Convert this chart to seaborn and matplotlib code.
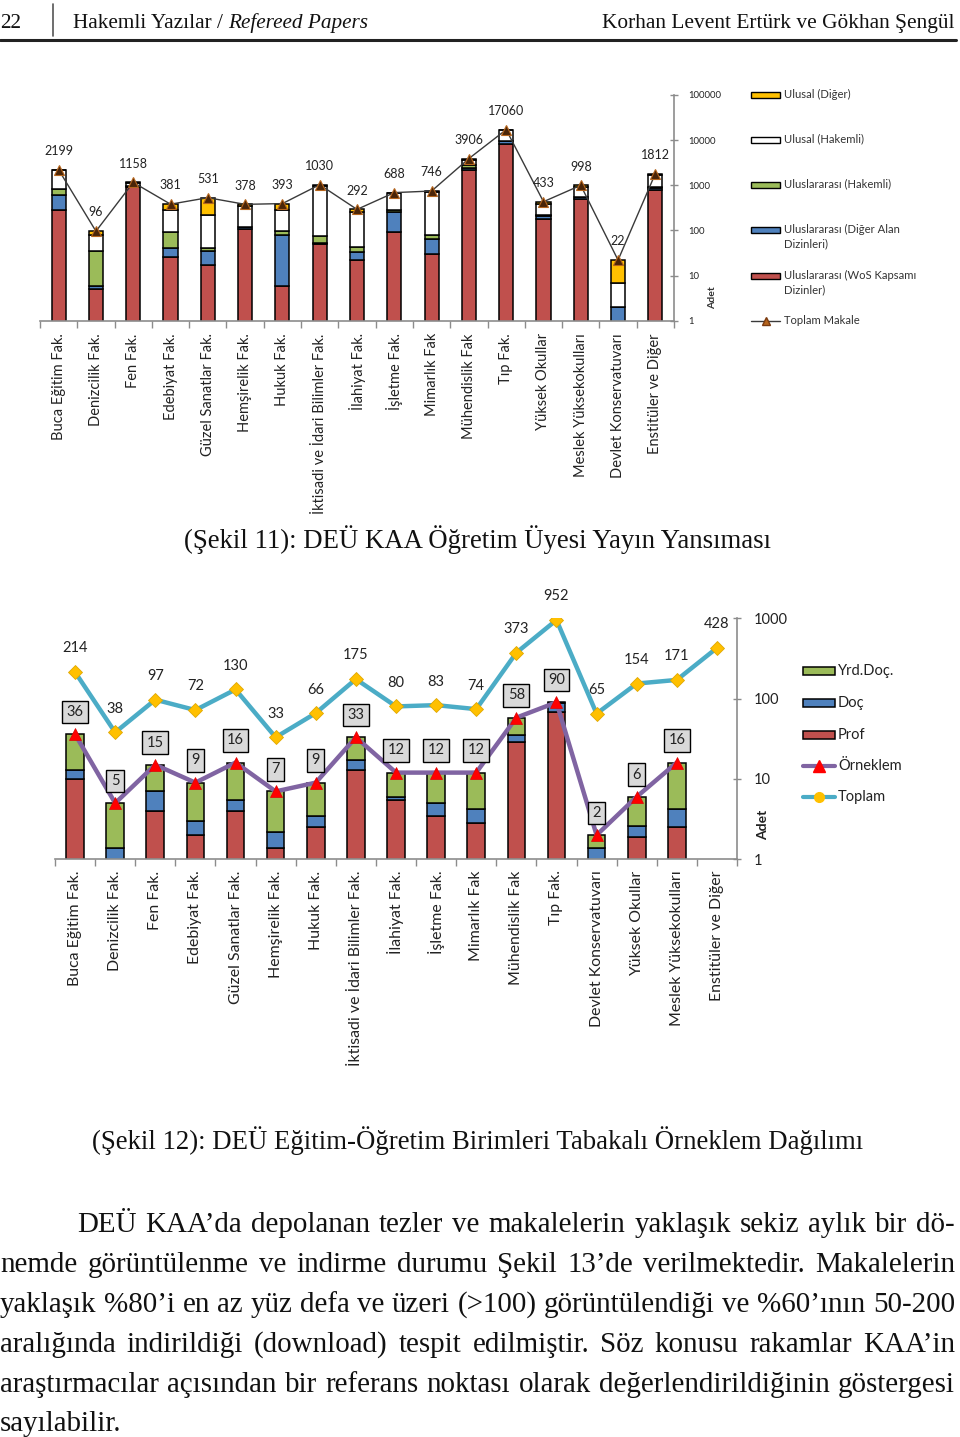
import numpy as np
import pandas as pd
import matplotlib
matplotlib.use("Agg")
import matplotlib.pyplot as plt
import seaborn as sns
from matplotlib.patches import Rectangle
from matplotlib.lines import Line2D
from matplotlib.ticker import NullLocator, FixedLocator

# ---------------- data: chart 1 (Şekil 11) ----------------
fac1 = ["Buca Eğitim Fak.", "Denizcilik Fak.", "Fen Fak.", "Edebiyat Fak.",
        "Güzel Sanatlar Fak.", "Hemşirelik Fak.", "Hukuk Fak.",
        "İktisadi ve İdari Bilimler Fak.", "İlahiyat Fak.", "İşletme Fak.",
        "Mimarlık Fak", "Mühendislik Fak", "Tıp Fak.", "Yüksek Okullar",
        "Meslek Yüksekokulları", "Devlet Konservatuvarı", "Enstitüler ve Diğer"]
wos = [282, 5, 920, 26, 17, 107, 6, 50, 22, 90, 30, 2150, 8100, 178, 490, 0, 780]
diger_alan = [318, 1, 30, 14, 18, 10, 73, 2, 11, 168, 34, 250, 1400, 30, 50, 2, 110]
uluslararasi_hakemli = [220, 29, 20, 50, 5, 5, 19, 24, 10, 32, 15, 370, 300, 10, 15, 0, 40]
ulusal_hakemli = [1330, 45, 170, 192, 180, 226, 184, 880, 215, 370, 616, 820, 6800, 163, 365, 5, 730]
ulusal_diger = [49, 16, 18, 99, 311, 30, 111, 74, 34, 28, 51, 316, 460, 52, 78, 15, 152]
toplam_makale = [2199, 96, 1158, 381, 531, 378, 393, 1030, 292, 688, 746, 3906,
                 17060, 433, 998, 22, 1812]
ticks1 = [1, 10, 100, 1000, 10000, 100000]

# ---------------- data: chart 2 (Şekil 12) ----------------
fac2 = ["Buca Eğitim Fak.", "Denizcilik Fak.", "Fen Fak.", "Edebiyat Fak.",
        "Güzel Sanatlar Fak.", "Hemşirelik Fak.", "Hukuk Fak.",
        "İktisadi ve İdari Bilimler Fak.", "İlahiyat Fak.", "İşletme Fak.",
        "Mimarlık Fak", "Mühendislik Fak", "Tıp Fak.", "Devlet Konservatuvarı",
        "Yüksek Okullar", "Meslek Yüksekokulları", "Enstitüler ve Diğer"]
prof = [10, 0, 4, 2, 4, 1.4, 2.5, 13, 5.5, 3.5, 2.8, 29, 69, 0, 1.9, 2.5, 0]
doc = [3, 1.4, 3, 1, 1.5, 0.8, 1, 4, 0.5, 1.5, 1.4, 6, 19, 1.4, 0.7, 1.7, 0]
yrd_doc = [23, 3.6, 8, 6, 10.5, 4.8, 5.5, 16, 6, 7, 7.8, 23, 2, 0.6, 3.4, 11.8, 0]
orneklem = [36, 5, 15, 9, 16, 7, 9, 33, 12, 12, 12, 58, 90, 2, 6, 16, np.nan]
toplam = [214, 38, 97, 72, 130, 33, 66, 175, 80, 83, 74, 373, 952, 65, 154, 171, 428]
ticks2 = [1, 10, 100, 1000]

# ---------------- text ----------------
header_left = "Hakemli Yazılar /"
header_left_it = "Refereed Papers"
header_right = "Korhan Levent Ertürk ve Gökhan Şengül"
page_no = "22"
caption1 = "(Şekil 11): DEÜ KAA Öğretim Üyesi Yayın Yansıması"
caption2 = "(Şekil 12): DEÜ Eğitim-Öğretim Birimleri Tabakalı Örneklem Dağılımı"
body_lines = [
    "DEÜ KAA’da depolanan tezler ve makalelerin yaklaşık sekiz aylık bir dö-",
    "nemde görüntülenme ve indirme durumu Şekil 13’de verilmektedir. Makalelerin",
    "yaklaşık %80’i en az yüz defa ve üzeri (>100) görüntülendiği ve %60’ının 50-200",
    "aralığında indirildiği (download) tespit edilmiştir. Söz konusu rakamlar KAA’in",
    "araştırmacılar açısından bir referans noktası olarak değerlendirildiğinin göstergesi",
    "sayılabilir.",
]

# ---------------- style ----------------
sns.set_theme(style="white")
plt.rcParams["font.family"] = ["Lato", "DejaVu Sans"]
SERIF = ["Liberation Serif", "DejaVu Serif"]
RED, BLUE, GREEN, YELLOW = "#C0504D", "#4F81BD", "#9BBB59", "#FFC000"
SPINE = "#8C8C8C"
TXT = "#222222"

W, H = 960, 1437
fig = plt.figure(figsize=(W / 100, H / 100), dpi=100)
fig.patch.set_facecolor("white")


def fx(x):
    return x / W


def fy(y):
    return 1 - y / H


def style_axis(ax, ticks, xlabels, xlab_fs, ylab_fs, ypad, xpad):
    ax.set_yscale("log")
    ax.set_xlim(-0.5, len(xlabels) - 0.5)
    ax.set_ylim(ticks[0], ticks[-1])
    ax.yaxis.tick_right()
    ax.yaxis.set_major_locator(FixedLocator(ticks))
    ax.yaxis.set_minor_locator(NullLocator())
    ax.set_yticklabels([str(t) for t in ticks])
    ax.set_xticks(np.arange(len(xlabels)))
    ax.set_xticklabels(xlabels, rotation=90, fontsize=xlab_fs, color=TXT)
    ax.set_xticks(np.arange(-0.5, len(xlabels), 1), minor=True)
    ax.tick_params(axis="x", which="major", length=0, pad=xpad)
    ax.tick_params(axis="x", which="minor", length=5, width=1, color=SPINE,
                   direction="out", bottom=True)
    ax.tick_params(axis="y", which="major", length=6, width=1, color=SPINE,
                   direction="inout", labelsize=ylab_fs, pad=ypad, labelcolor=TXT,
                   right=True, left=False)
    for s in ["left", "top"]:
        ax.spines[s].set_visible(False)
    for s in ["right", "bottom"]:
        ax.spines[s].set_color(SPINE)
        ax.spines[s].set_linewidth(1.2)
    ax.set_xlabel("")
    ax.set_ylabel("")
    ax.set_facecolor("white")
    ax.grid(False)


# ================= chart 1 =================
ax1 = fig.add_axes([fx(40), fy(320.7), (674 - 40) / W, (320.7 - 95) / H])
ax1.set_yscale("log")
x1 = np.arange(len(fac1))
layers1 = [(wos, RED), (diger_alan, BLUE), (uluslararasi_hakemli, GREEN),
           (ulusal_hakemli, "white"), (ulusal_diger, YELLOW)]
bottom = np.zeros(len(fac1))
for vals, col in layers1:
    v = np.array(vals, dtype=float)
    ax1.bar(x1, v, bottom=bottom, width=0.38, color=col, edgecolor="black",
            linewidth=1.1, zorder=1)
    bottom = bottom + v

df1 = pd.DataFrame({"x": x1, "Toplam Makale": toplam_makale})
sns.lineplot(data=df1, x="x", y="Toplam Makale", ax=ax1, color="#3a3a3a",
             linewidth=1.0, marker="^", markersize=6.5, markerfacecolor="#4a2508",
             markeredgecolor="#b5651d", markeredgewidth=0.8, estimator=None,
             sort=False, legend=False, zorder=4)
for i, v in enumerate(toplam_makale):
    ax1.annotate(str(v), (i, v), xytext=(0, 13.5), textcoords="offset points",
                 ha="center", va="center", fontsize=9.0, color=TXT, zorder=5)
style_axis(ax1, ticks1, fac1, 10.5, 6.8, 7, 9)

# legend 1 (drawn as figure artists)
leg1 = [("Ulusal (Diğer)", YELLOW, 95), ("Ulusal (Hakemli)", "white", 140),
        ("Uluslararası (Hakemli)", GREEN, 185),
        ("Uluslararası (Diğer Alan\nDizinleri)", BLUE, 230),
        ("Uluslararası (WoS Kapsamı\nDizinler)", RED, 276)]
for lab, col, yy in leg1:
    fig.add_artist(Rectangle((fx(751), fy(yy + 3)), 29 / W, 6 / H, facecolor=col,
                             edgecolor="black", linewidth=1.0,
                             transform=fig.transFigure))
    fig.text(fx(784), fy(yy - 6.5), lab, fontsize=8.1, color="#333333", va="top",
             ha="left", linespacing=1.4)
fig.add_artist(Line2D([fx(751), fx(780)], [fy(321), fy(321)], color="#3a3a3a",
                      lw=1.0, transform=fig.transFigure))
fig.add_artist(Line2D([fx(765.5)], [fy(321)], marker="^", markersize=6,
                      markerfacecolor="#b5651d", markeredgecolor="#7a3a10",
                      transform=fig.transFigure))
fig.text(fx(784), fy(321), "Toplam Makale", fontsize=8.1, color="#333333",
         va="center", ha="left")
fig.text(fx(713), fy(298), "Adet", fontsize=7.5, fontweight="bold", rotation=90,
         va="center", ha="center", color="#333333")

# ================= chart 2 =================
ax2 = fig.add_axes([fx(55), fy(859.3), (737 - 55) / W, (859.3 - 618.3) / H])
ax2.set_yscale("log")
x2 = np.arange(len(fac2))
layers2 = [(prof, RED), (doc, BLUE), (yrd_doc, GREEN)]
bottom = np.zeros(len(fac2))
for vals, col in layers2:
    v = np.array(vals, dtype=float)
    ax2.bar(x2, v, bottom=bottom, width=0.44, color=col, edgecolor="black",
            linewidth=1.1, zorder=1)
    bottom = bottom + v

df2 = pd.DataFrame({"x": x2, "Toplam": toplam, "Örneklem": orneklem})
sns.lineplot(data=df2, x="x", y="Toplam", ax=ax2, color="#4BACC6", linewidth=3.2,
             marker="D", markersize=7, markerfacecolor=YELLOW,
             markeredgecolor="#E0A800", markeredgewidth=0.6, estimator=None,
             sort=False, legend=False, zorder=4)
sns.lineplot(data=df2, x="x", y="Örneklem", ax=ax2, color="#8064A2", linewidth=3.2,
             marker="^", markersize=9, markerfacecolor="#FF0000",
             markeredgecolor="#E00000", markeredgewidth=0.5, estimator=None,
             sort=False, legend=False, zorder=5)
for i, v in enumerate(toplam):
    ax2.annotate(str(v), (i, v), xytext=(0, 17), textcoords="offset points",
                 ha="center", va="center", fontsize=10.5, color=TXT, zorder=6)
for i, v in enumerate(orneklem):
    if np.isnan(v):
        continue
    ax2.annotate(str(int(v)), (i, v), xytext=(0, 16), textcoords="offset points",
                 ha="center", va="center", fontsize=10.5, color=TXT, zorder=6,
                 bbox=dict(boxstyle="square,pad=0.3", facecolor="#D9D9D9",
                           edgecolor="black", linewidth=1.0))
style_axis(ax2, ticks2, fac2, 11.4, 10.5, 9, 8)

leg2 = [("Yrd.Doç.", GREEN, 671), ("Doç", BLUE, 703), ("Prof", RED, 735)]
for lab, col, yy in leg2:
    fig.add_artist(Rectangle((fx(803), fy(yy + 4)), 32 / W, 8 / H, facecolor=col,
                             edgecolor="black", linewidth=1.1,
                             transform=fig.transFigure))
    fig.text(fx(838), fy(yy), lab, fontsize=10.5, color=TXT, va="center", ha="left")
for lab, col, mk, mcol, ms, yy in [("Örneklem", "#8064A2", "^", "#FF0000", 9, 766),
                                   ("Toplam", "#4BACC6", "o", YELLOW, 7, 797)]:
    fig.add_artist(Line2D([fx(803), fx(835)], [fy(yy), fy(yy)], color=col, lw=3,
                          transform=fig.transFigure))
    fig.add_artist(Line2D([fx(819)], [fy(yy)], marker=mk, markersize=ms,
                          markerfacecolor=mcol, markeredgecolor=mcol,
                          transform=fig.transFigure))
    fig.text(fx(838), fy(yy), lab, fontsize=10.5, color=TXT, va="center", ha="left")
fig.text(fx(763), fy(825), "Adet", fontsize=10, fontweight="bold", rotation=90,
         va="center", ha="center", color=TXT)

# ================= page text =================
fig.text(fx(0), fy(28), page_no, fontsize=15.3, family=SERIF, va="baseline",
         ha="left", color="#111111")
fig.add_artist(Line2D([fx(53), fx(53)], [fy(4), fy(36)], color="#555555", lw=1.2,
                      transform=fig.transFigure))
fig.text(fx(73), fy(28), header_left, fontsize=15.3, family=SERIF, va="baseline",
         ha="left", color="#111111")
fig.text(fx(228), fy(28), header_left_it, fontsize=15.3, family=SERIF,
         style="italic", va="baseline", ha="left", color="#111111")
fig.text(fx(955), fy(28), header_right, fontsize=15.4, family=SERIF, va="baseline",
         ha="right", color="#111111")
fig.add_artist(Line2D([fx(0), fx(956)], [fy(40), fy(40)], color="#222222", lw=2.2,
                      transform=fig.transFigure))

fig.text(fx(478), fy(548), caption1, fontsize=19.3, family=SERIF, va="baseline",
         ha="center", color="#111111")
fig.text(fx(478), fy(1149), caption2, fontsize=19.3, family=SERIF, va="baseline",
         ha="center", color="#111111")

renderer = fig.canvas.get_renderer()
BODY_FS = 20.9
baselines = [1232, 1272, 1312, 1352, 1392, 1431]
starts = [77, 0, 0, 0, 0, 0]
for k, (line, yb, x0) in enumerate(zip(body_lines, baselines, starts)):
    if k == len(body_lines) - 1:
        fig.text(fx(x0), fy(yb), line, fontsize=BODY_FS, family=SERIF,
                 va="baseline", ha="left", color="#111111")
        continue
    words = line.split(" ")
    texts = [fig.text(0, fy(yb), w, fontsize=BODY_FS, family=SERIF,
                      va="baseline", ha="left", color="#111111") for w in words]
    widths = [t.get_window_extent(renderer).width for t in texts]
    gap = (955 - x0 - sum(widths)) / (len(words) - 1)
    xx = x0
    for t, wd in zip(texts, widths):
        t.set_x(fx(xx))
        xx += wd + gap

fig.savefig("out.png", dpi=100, facecolor="white")
